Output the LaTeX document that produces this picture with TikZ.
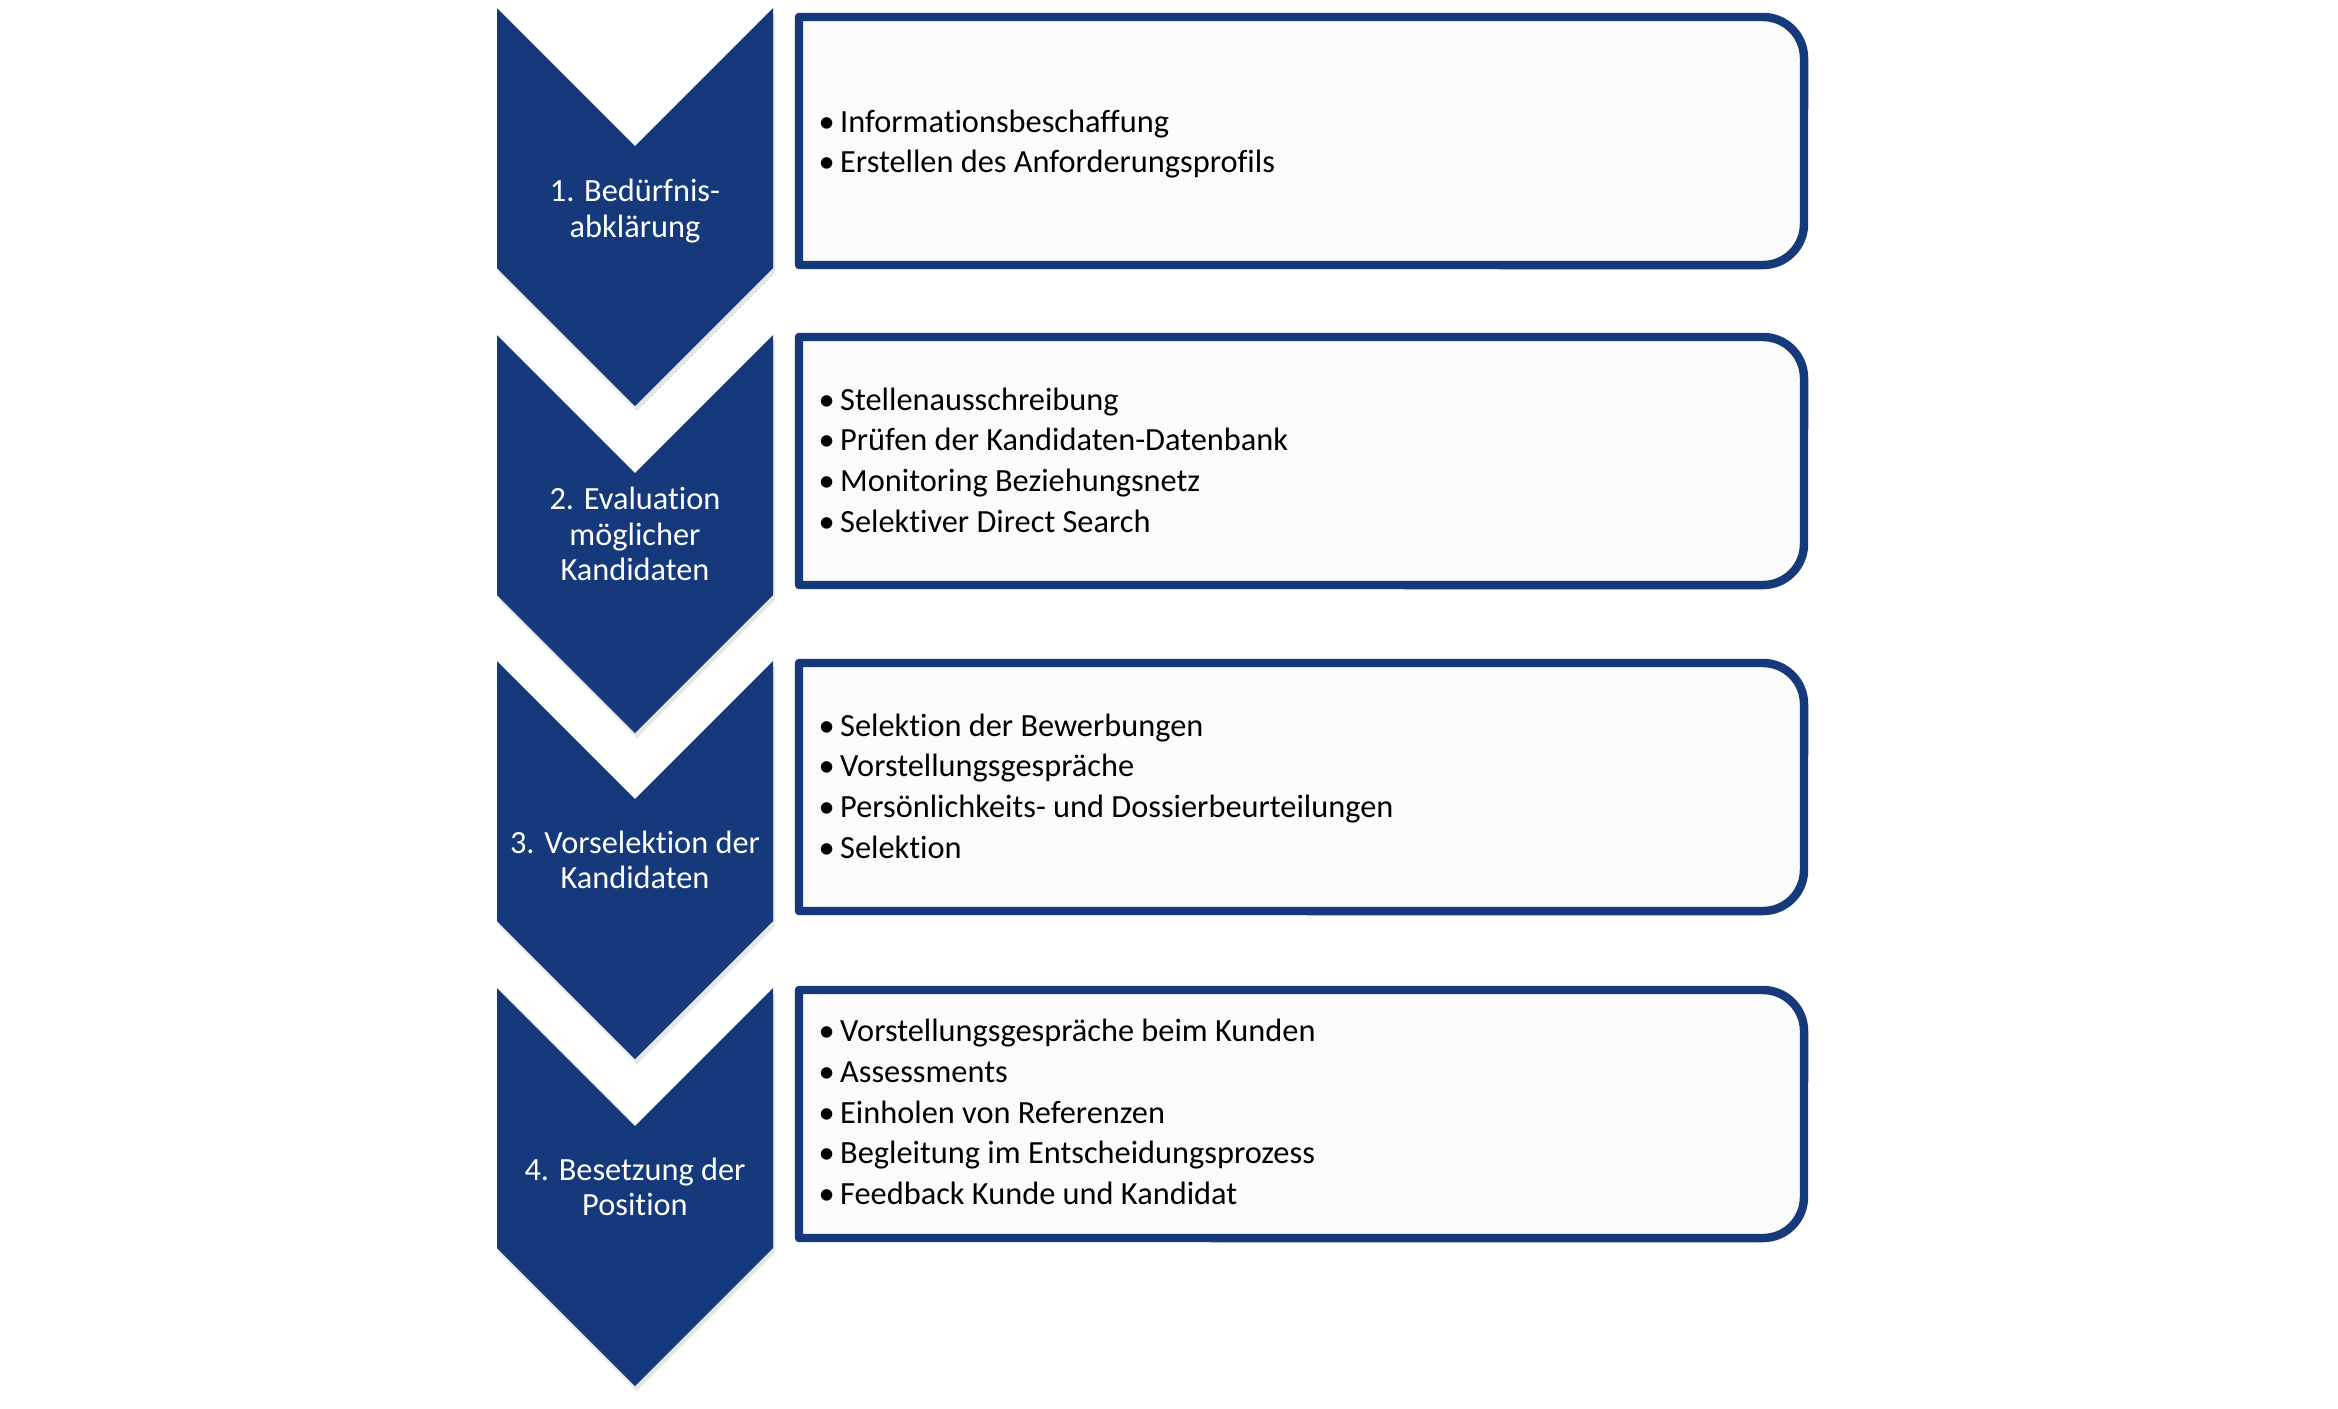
\documentclass[tikz,border=0pt]{standalone}
\usepackage{fontspec}
\setmainfont{Carlito}[Ligatures=NoCommon]
\usepackage{tikz}
\usetikzlibrary{shadows}
\definecolor{chevblue}{RGB}{21,57,123}
\definecolor{boxfill}{RGB}{251,251,249}
\newcommand{\bul}{\makebox[2.15mm][l]{\textbullet}}

\begin{document}
\begin{tikzpicture}[x=0.01cm,y=0.01cm,
  chevron/.style={fill=chevblue,drop shadow={shadow xshift=0.02cm,shadow yshift=-0.05cm,opacity=0.2}},
  listframe/.style={draw=chevblue,line width=2.4pt,fill=boxfill,line join=round},
  steptext/.style={text=white,align=center,inner sep=0pt,font=\fontsize{9.2pt}{10pt}\selectfont},
  listtext/.style={anchor=west,align=left,inner sep=0pt,font=\fontsize{9.2pt}{11.55pt}\selectfont}]
\useasboundingbox (0,0) rectangle (2338,-1408);

\fill[chevron] (497,-8) -- (635,-146) -- (773,-8) -- (773,-268) -- (635,-406) -- (497,-268) -- cycle;
\fill[chevron] (497,-335) -- (635,-473) -- (773,-335) -- (773,-595) -- (635,-733) -- (497,-595) -- cycle;
\fill[chevron] (497,-661) -- (635,-799) -- (773,-661) -- (773,-921) -- (635,-1059) -- (497,-921) -- cycle;
\fill[chevron] (497,-988) -- (635,-1126) -- (773,-988) -- (773,-1248) -- (635,-1386) -- (497,-1248) -- cycle;

\node[steptext] (s1) at (635,-211) {1. Bedürfnis-\\abklärung};
\node[steptext] (s2) at (635,-534) {2. Evaluation\\möglicher\\Kandidaten};
\node[steptext] (s3) at (635,-860) {3. Vorselektion der\\Kandidaten};
\node[steptext] (s4) at (635,-1187) {4. Besetzung der\\Position};

\draw[listframe] (799,-17) -- (1763,-17) arc[start angle=90,end angle=0,radius=0.41cm] -- (1804,-224) arc[start angle=0,end angle=-90,radius=0.41cm] -- (799,-265) -- cycle;
\draw[listframe] (799,-337) -- (1763,-337) arc[start angle=90,end angle=0,radius=0.41cm] -- (1804,-544) arc[start angle=0,end angle=-90,radius=0.41cm] -- (799,-585) -- cycle;
\draw[listframe] (799,-663) -- (1763,-663) arc[start angle=90,end angle=0,radius=0.41cm] -- (1804,-870) arc[start angle=0,end angle=-90,radius=0.41cm] -- (799,-911) -- cycle;
\draw[listframe] (799,-990) -- (1763,-990) arc[start angle=90,end angle=0,radius=0.41cm] -- (1804,-1197) arc[start angle=0,end angle=-90,radius=0.41cm] -- (799,-1238) -- cycle;

\node[listtext] (b1) at (818,-144) {\bul Informationsbeschaffung\\
  \bul Erstellen des Anforderungsprofils};
\node[listtext] (b2) at (818,-460) {\bul Stellenausschreibung\\
  \bul Prüfen der Kandidaten-Datenbank\\
  \bul Monitoring Beziehungsnetz\\
  \bul Selektiver Direct Search};
\node[listtext] (b3) at (818,-786) {\bul Selektion der Bewerbungen\\
  \bul Vorstellungsgespräche\\
  \bul Persönlichkeits- und Dossierbeurteilungen\\
  \bul Selektion};
\node[listtext] (b4) at (818,-1112) {\bul Vorstellungsgespräche beim Kunden\\
  \bul Assessments\\
  \bul Einholen von Referenzen\\
  \bul Begleitung im Entscheidungsprozess\\
  \bul Feedback Kunde und Kandidat};
\end{tikzpicture}
\end{document}
